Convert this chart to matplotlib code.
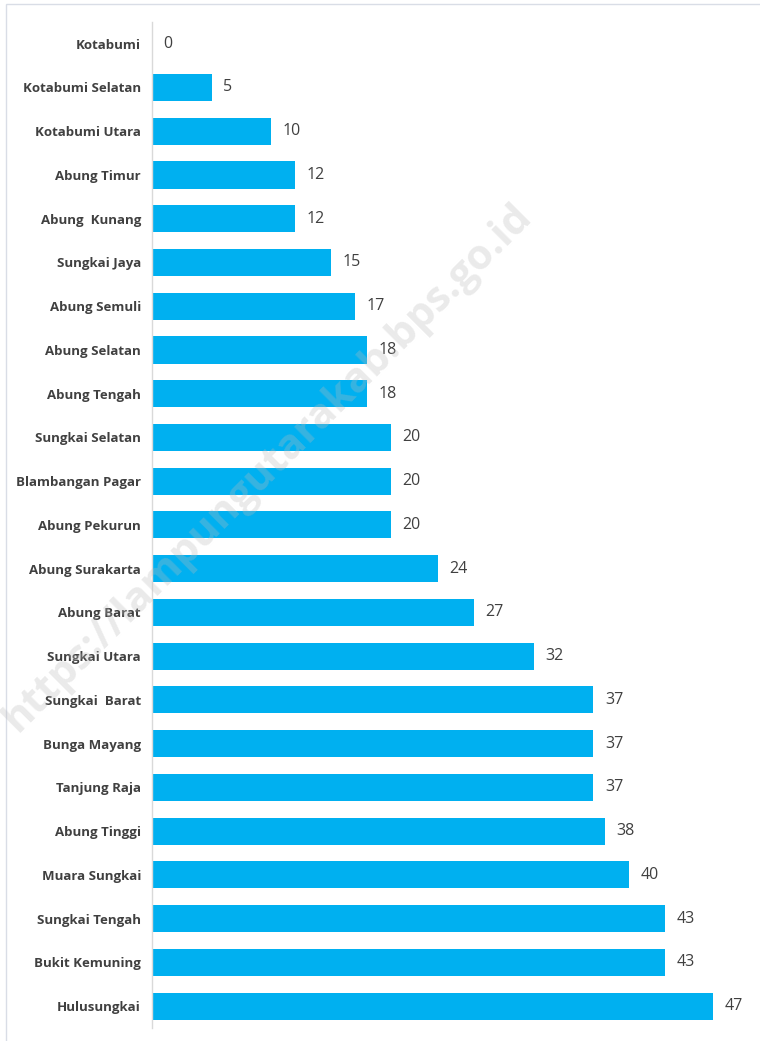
import numpy as np
import matplotlib
matplotlib.use("Agg")
import matplotlib.pyplot as plt
from matplotlib.patches import Rectangle

# kecamatan (dari atas ke bawah) dan nilainya
kecamatan = ["Kotabumi", "Kotabumi Selatan", "Kotabumi Utara", "Abung Timur",
             "Abung  Kunang", "Sungkai Jaya", "Abung Semuli", "Abung Selatan",
             "Abung Tengah", "Sungkai Selatan", "Blambangan Pagar", "Abung Pekurun",
             "Abung Surakarta", "Abung Barat", "Sungkai Utara", "Sungkai  Barat",
             "Bunga Mayang", "Tanjung Raja", "Abung Tinggi", "Muara Sungkai",
             "Sungkai Tengah", "Bukit Kemuning", "Hulusungkai"]
nilai = [0, 5, 10, 12, 12, 15, 17, 18, 18, 20, 20, 20, 24, 27, 32, 37, 37, 37,
         38, 40, 43, 43, 47]

plt.rcParams['font.family'] = ['Open Sans', 'DejaVu Sans']

fig = plt.figure(figsize=(7.6, 10.41), dpi=100)
ax = fig.add_axes([0.2, 0.0125, 0.785, 0.9665])

y = np.arange(len(kecamatan))
ax.barh(y, nilai, height=0.62, color="#00B0F0", zorder=2)
ax.set_ylim(len(kecamatan) - 0.5, -0.5)
ax.set_xlim(0, 50)
ax.set_yticks(y)
ax.set_yticklabels(kecamatan, fontsize=9.5, fontweight="bold", color="#404040")
ax.tick_params(axis="y", length=0, pad=8)
ax.set_xticks([])
for s in ["top", "right", "bottom"]:
    ax.spines[s].set_visible(False)
ax.spines["left"].set_color("#d9d9d9")
ax.spines["left"].set_linewidth(1)

for yi, v in zip(y, nilai):
    ax.text(v + 0.95, yi, str(v), va="center", ha="left", fontsize=11.5, color="#404040")

# bingkai grafik
fig.add_artist(Rectangle((6 / 760, -0.1), 2, 1.1 - 4 / 1041, transform=fig.transFigure,
                         fill=False, edgecolor="#d9dde6", linewidth=1))

# watermark
fig.text(268 / 760, 1 - 468 / 1041, "https://lampungutarakab.bps.go.id", rotation=45,
         ha="center", va="center", fontsize=30, fontweight="bold", color="#bbbbbb",
         alpha=0.3, zorder=5)

fig.savefig("out.png", dpi=100)
